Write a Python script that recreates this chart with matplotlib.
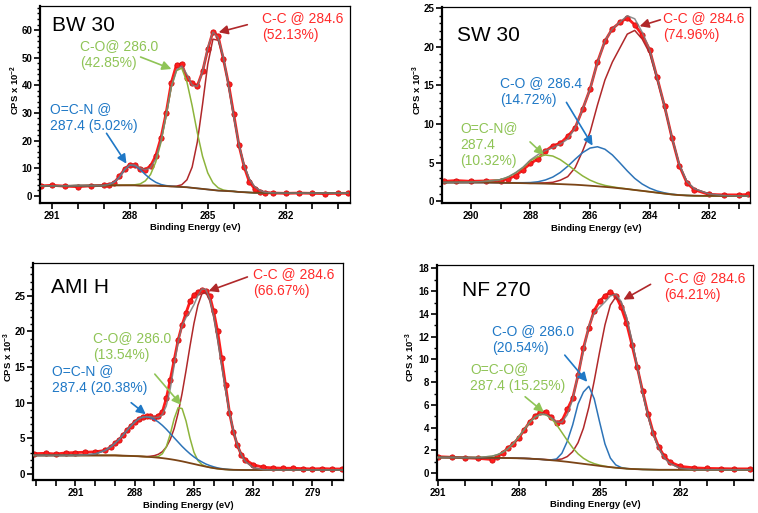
import matplotlib
matplotlib.use("Agg")
import matplotlib.pyplot as plt
from matplotlib.patches import FancyArrowPatch
import numpy as np

plt.rcParams['font.family'] = ['Liberation Sans', 'DejaVu Sans']
plt.rcParams['mathtext.fontset'] = 'custom'
plt.rcParams['mathtext.rm'] = 'Liberation Sans:bold'
plt.rcParams['mathtext.it'] = 'Liberation Sans:bold'
plt.rcParams['mathtext.bf'] = 'Liberation Sans:bold'

# ---------------- BW 30 ----------------
bw30_energy = [291.4, 291.0, 290.5, 290.0, 289.5, 289.0,
               288.8, 288.6, 288.4, 288.2, 288.0, 287.8, 287.6, 287.4, 287.2, 287.0,
               286.8, 286.6, 286.4, 286.2, 286.0, 285.8, 285.6, 285.4, 285.2, 285.0,
               284.8, 284.6, 284.4, 284.2, 284.0, 283.8, 283.6, 283.4, 283.2, 283.0, 282.8,
               282.5, 282.0, 281.5, 281.0, 280.5, 280.0, 279.6]
bw30_counts = [3.6, 3.8, 3.5, 3.3, 3.6, 3.8,
               4.0, 4.8, 7.0, 9.6, 11.3, 11.0, 9.8, 9.5, 10.8, 14.5,
               21.0, 30.0, 41.0, 47.5, 47.7, 42.5, 40.8, 39.8, 45.0, 53.0,
               59.4, 57.8, 49.5, 40.5, 29.5, 18.3, 10.5, 5.0, 2.6, 1.5, 1.2,
               1.0, 0.9, 1.0, 0.9, 0.8, 0.9, 0.9]
bw30_background = [3.6, 3.6, 3.6, 3.7, 3.7, 3.7,
                   3.8, 3.8, 3.8, 3.8, 3.8, 3.8, 3.7, 3.7, 3.7, 3.7,
                   3.6, 3.5, 3.4, 3.3, 3.2, 3.1, 2.9, 2.7, 2.5, 2.3,
                   2.1, 1.9, 1.8, 1.7, 1.6, 1.4, 1.3, 1.2, 1.1, 1.1, 1.0,
                   1.0, 1.0, 1.0, 1.0, 1.0, 1.0, 1.0]
bw30_ocn = [0, 0, 0, 0, 0, 0,
            0.3, 1.1, 2.9, 5.6, 7.3, 7.1, 5.8, 4.0, 2.4, 1.2,
            0.5, 0.2, 0.1, 0, 0, 0, 0, 0, 0, 0,
            0, 0, 0, 0, 0, 0, 0, 0, 0, 0, 0,
            0, 0, 0, 0, 0, 0, 0]
bw30_co = [0, 0, 0, 0, 0, 0,
           0, 0, 0, 0.05, 0.1, 0.2, 0.6, 1.7, 4.0, 8.5,
           15.7, 25.5, 36.0, 42.0, 43.0, 38.1, 29.7, 20.1, 11.8, 6.0,
           2.6, 1.0, 0.3, 0.1, 0, 0, 0, 0, 0, 0, 0,
           0, 0, 0, 0, 0, 0, 0]
bw30_cc = [0, 0, 0, 0, 0, 0,
           0, 0, 0, 0, 0, 0, 0, 0, 0, 0,
           0, 0, 0, 0.2, 0.8, 2.7, 7.5, 16.8, 30.6, 45.3,
           54.6, 54.4, 48.1, 38.1, 27.0, 17.1, 9.7, 4.9, 2.2, 0.9, 0.3,
           0.05, 0, 0, 0, 0, 0, 0]

# ---------------- SW 30 ----------------
sw30_energy = [290.9, 290.5, 290.0, 289.5, 289.0,
               288.75, 288.5, 288.25, 288.0, 287.75, 287.5, 287.25, 287.0, 286.75, 286.5,
               286.25, 286.0, 285.75, 285.5, 285.25, 285.0, 284.75, 284.5, 284.25, 284.0,
               283.75, 283.5, 283.25, 283.0, 282.75, 282.5,
               282.0, 281.5, 281.0, 280.7]
sw30_counts = [2.6, 2.7, 2.6, 2.65, 2.7,
               2.95, 3.3, 4.1, 4.9, 5.5, 6.5, 7.2, 7.5, 8.4, 9.5,
               11.9, 14.5, 18.0, 20.7, 22.3, 23.1, 23.7, 22.8, 21.5, 19.6,
               16.0, 12.3, 8.2, 4.6, 2.4, 1.5,
               0.9, 0.85, 0.85, 0.9]
sw30_background = [2.45, 2.45, 2.45, 2.45, 2.42,
                   2.4, 2.38, 2.36, 2.34, 2.32, 2.3, 2.27, 2.24, 2.2, 2.16,
                   2.1, 2.03, 1.96, 1.88, 1.8, 1.7, 1.6, 1.48, 1.37, 1.25,
                   1.13, 1.01, 0.9, 0.82, 0.77, 0.74,
                   0.72, 0.71, 0.7, 0.7]
sw30_ocn = [0, 0.01, 0.03, 0.14, 0.4,
            0.75, 1.3, 2.0, 2.92, 3.45, 3.7, 3.59, 3.16, 2.52, 1.83,
            1.2, 0.72, 0.39, 0.19, 0.09, 0.04, 0.02, 0, 0, 0,
            0, 0, 0, 0, 0, 0,
            0, 0, 0, 0]
sw30_co = [0, 0, 0, 0, 0,
           0.02, 0.04, 0.06, 0.1, 0.22, 0.47, 0.88, 1.5, 2.34, 3.29,
           4.2, 4.86, 5.1, 4.86, 4.2, 3.29, 2.34, 1.5, 0.88, 0.47,
           0.22, 0.1, 0.04, 0.02, 0.01, 0,
           0, 0, 0, 0]
sw30_cc = [0, 0, 0, 0, 0,
           0, 0, 0, 0, 0.05, 0.1, 0.2, 0.5, 1.0, 2.2,
           4.4, 6.9, 10.5, 13.8, 16.2, 18.1, 20.0, 20.6, 19.6, 17.9,
           14.65, 11.2, 7.3, 3.9, 1.8, 0.9,
           0.25, 0.05, 0, 0]

# ---------------- AMI H ----------------
amih_energy = [293.1, 292.5, 292.0, 291.5, 291.0, 290.5, 290.0, 289.5,
               289.2, 289.0, 288.8, 288.6, 288.4, 288.2, 288.0, 287.8, 287.6, 287.4,
               287.2, 287.0, 286.8, 286.6, 286.4, 286.2, 286.0, 285.8, 285.6, 285.4,
               285.2, 285.0, 284.8, 284.6, 284.4, 284.2, 284.0, 283.8, 283.6, 283.4,
               283.2, 283.0, 282.8, 282.6, 282.4,
               282.0, 281.5, 281.0, 280.5, 280.0, 279.5, 279.0, 278.5, 278.0, 277.5]
amih_counts = [2.85, 2.9, 2.8, 2.95, 3.0, 3.05, 3.1, 3.3,
               3.8, 4.3, 4.8, 5.4, 6.1, 6.7, 7.3, 7.7, 8.0, 8.1,
               8.1, 7.9, 8.2, 8.7, 10.6, 13.2, 16.0, 18.8, 20.9, 22.6,
               24.2, 25.1, 25.5, 25.8, 25.7, 25.0, 22.8, 20.0, 16.3, 12.5,
               8.6, 5.9, 4.0, 2.7, 2.0,
               1.3, 0.94, 0.85, 0.8, 0.8, 0.75, 0.7, 0.75, 0.7, 0.7]
amih_background = [2.6, 2.6, 2.6, 2.6, 2.6, 2.6, 2.6, 2.6,
                   2.6, 2.6, 2.58, 2.56, 2.55, 2.53, 2.5, 2.48, 2.45, 2.42,
                   2.38, 2.33, 2.28, 2.22, 2.15, 2.07, 1.98, 1.88, 1.77, 1.65,
                   1.52, 1.4, 1.27, 1.15, 1.03, 0.92, 0.82, 0.74, 0.68, 0.63,
                   0.6, 0.58, 0.57, 0.56, 0.55,
                   0.55, 0.55, 0.55, 0.55, 0.55, 0.55, 0.55, 0.55, 0.55, 0.55]
amih_ocn = [0, 0, 0, 0, 0, 0.05, 0.2, 0.7,
            1.22, 1.68, 2.24, 2.87, 3.53, 4.19, 4.77, 5.24, 5.52, 5.6,
            5.53, 5.32, 5.0, 4.6, 4.13, 3.61, 3.09, 2.59, 2.1, 1.68,
            1.31, 0.99, 0.74, 0.54, 0.37, 0.26, 0.18, 0.11, 0.07, 0.04,
            0.02, 0.01, 0, 0, 0,
            0, 0, 0, 0, 0, 0, 0, 0, 0, 0]
amih_co = [0, 0, 0, 0, 0, 0, 0, 0,
           0, 0, 0, 0, 0, 0, 0, 0, 0, 0,
           0, 0.04, 0.17, 0.61, 1.65, 3.5, 5.78, 7.41, 7.41, 5.78,
           3.5, 1.65, 0.61, 0.17, 0.04, 0, 0, 0, 0, 0,
           0, 0, 0, 0, 0,
           0, 0, 0, 0, 0, 0, 0, 0, 0, 0]
amih_cc = [0, 0, 0, 0, 0, 0, 0, 0,
           0, 0, 0, 0, 0, 0, 0, 0, 0, 0,
           0.11, 0.24, 0.48, 0.9, 1.62, 2.75, 4.4, 6.66, 9.52, 12.85,
           16.4, 19.7, 22.4, 24.1, 24.46, 23.4, 21.2, 18.1, 14.6, 11.15,
           8.0, 5.46, 3.5, 2.12, 1.22,
           0.34, 0.05, 0, 0, 0, 0, 0, 0, 0, 0]

# ---------------- NF 270 ----------------
nf270_energy = [291.0, 290.5, 290.0, 289.5, 289.0,
                288.8, 288.6, 288.4, 288.2, 288.0, 287.8, 287.6, 287.4, 287.2, 287.0,
                286.8, 286.6, 286.4, 286.2, 286.0, 285.8, 285.6, 285.4, 285.2, 285.0,
                284.8, 284.6, 284.4, 284.2, 284.0, 283.8, 283.6, 283.4, 283.2, 283.0,
                282.8, 282.6, 282.4,
                282.0, 281.5, 281.0, 280.5, 280.0, 279.4]
nf270_counts = [1.45, 1.4, 1.35, 1.3, 1.2,
                1.45, 1.8, 2.2, 2.6, 3.1, 3.8, 4.5, 5.0, 5.35, 5.4,
                4.9, 4.45, 4.6, 5.6, 6.6, 8.6, 11.0, 12.8, 14.3, 15.1,
                15.6, 15.9, 15.6, 14.6, 13.2, 11.3, 9.3, 7.2, 5.2, 3.5,
                2.3, 1.5, 1.0,
                0.6, 0.47, 0.42, 0.4, 0.38, 0.38]
nf270_background = [1.38, 1.38, 1.37, 1.36, 1.35,
                    1.35, 1.34, 1.33, 1.32, 1.31, 1.3, 1.28, 1.25, 1.22, 1.18,
                    1.14, 1.1, 1.05, 1.0, 0.94, 0.88, 0.82, 0.76, 0.7, 0.64,
                    0.58, 0.53, 0.48, 0.44, 0.4, 0.37, 0.35, 0.33, 0.32, 0.31,
                    0.3, 0.3, 0.3,
                    0.3, 0.3, 0.3, 0.3, 0.3, 0.3]
nf270_oco = [0, 0, 0, 0.02, 0.14,
             0.27, 0.49, 0.82, 1.29, 1.88, 2.53, 3.17, 3.68, 3.96, 3.96,
             3.68, 3.17, 2.53, 1.88, 1.29, 0.82, 0.49, 0.27, 0.14, 0.07,
             0.03, 0, 0, 0, 0, 0, 0, 0, 0, 0,
             0, 0, 0,
             0, 0, 0, 0, 0, 0]
nf270_co = [0, 0, 0, 0, 0,
            0, 0, 0, 0, 0, 0, 0, 0, 0, 0,
            0.03, 0.15, 0.7, 1.8, 3.3, 5.2, 6.31, 6.88, 5.85, 3.87,
            1.99, 0.8, 0.25, 0.06, 0.01, 0, 0, 0, 0, 0,
            0, 0, 0,
            0, 0, 0, 0, 0, 0]
nf270_cc = [0, 0, 0, 0, 0,
            0, 0, 0, 0, 0, 0, 0, 0, 0, 0.02,
            0.03, 0.08, 0.2, 0.46, 0.95, 1.8, 3.13, 5.02, 7.4, 10.0,
            12.45, 14.25, 15.0, 14.6, 13.3, 11.3, 9.03, 6.73, 4.69, 3.06,
            1.88, 1.07, 0.57,
            0.13, 0.01, 0, 0, 0, 0]

# ---------------- styling ----------------
W, H = 758, 513
DATA_RED = '#ff1c1c'
CC_COL = '#b0282a'
CO_GREEN = '#8db43c'
BLUE = '#2d74b8'
BROWN = '#7b4416'
GRAY = '#7a7a7a'
TXT_RED = '#ff2a2a'
TXT_GREEN = '#8fc456'
TXT_BLUE = '#1f78c6'

fig = plt.figure(figsize=(W / 100, H / 100), dpi=100)


def px(x, y):
    return (x / W, 1 - y / H)


def make_axes(l, t, r, b):
    return fig.add_axes([l / W, 1 - b / H, (r - l) / W, (b - t) / H])


def draw_panel(ax, energy, counts, background, comps, xlim, ylim, xmajor, ymajor,
               yminor_step, ylabel, ylab_xy, xlab_y):
    e = np.array(energy)
    bg = np.array(background)
    ax.plot(e, counts, color=DATA_RED, lw=2.0, zorder=1)
    ax.plot(e, counts, 'o', ms=3.8, mfc=DATA_RED, mec='#d41010', mew=0.6, zorder=2)
    total = bg.copy()
    for vals, col in comps:
        v = np.array(vals)
        ax.plot(e, bg + v, color=col, lw=1.1, zorder=3)
        total = total + v
    ax.plot(e, bg, color=BROWN, lw=1.3, zorder=4)
    ax.plot(e, total, color=GRAY, lw=1.1, zorder=5, alpha=0.85)

    ax.set_xlim(*xlim)
    ax.set_ylim(*ylim)
    ax.set_xticks(xmajor)
    lo, hi = int(np.ceil(min(xlim))), int(np.floor(max(xlim)))
    ax.set_xticks([v for v in range(lo, hi + 1) if v not in xmajor], minor=True)
    ax.set_yticks(ymajor)
    ymin_t = np.arange(0, ylim[1] + 1e-9, yminor_step)
    ax.set_yticks([v for v in ymin_t if all(abs(v - m) > 1e-6 for m in ymajor)], minor=True)
    ax.tick_params(axis='x', which='both', direction='out', length=4, width=1.2,
                   labelsize=7, pad=2)
    ax.tick_params(axis='y', which='major', direction='out', length=4, width=1.2,
                   labelsize=7, pad=1.5)
    ax.tick_params(axis='y', which='minor', direction='out', length=2.2, width=1.0)
    for lbl in ax.get_xticklabels() + ax.get_yticklabels():
        lbl.set_fontweight('bold')
    for s in ['left', 'bottom']:
        ax.spines[s].set_linewidth(1.6)
    for s in ['top', 'right']:
        ax.spines[s].set_linewidth(0.9)
    ax.set_ylabel(ylabel, fontsize=6.8, fontweight='bold')
    ax.yaxis.set_label_coords(*ylab_xy)
    ax.set_xlabel('Binding Energy (eV)', fontsize=6.8, fontweight='bold')
    ax.xaxis.set_label_coords(0.5, xlab_y)


def label(x, y, s, color, size=10):
    fig.text(*px(x, y), s, color=color, fontsize=size, ha='left', va='top',
             linespacing=1.25)


def arrow(x0, y0, x1, y1, color):
    a = FancyArrowPatch(px(x0, y0), px(x1, y1), transform=fig.transFigure,
                        arrowstyle='-|>,head_length=0.6,head_width=0.3',
                        mutation_scale=9, lw=1.2, color=color, zorder=10)
    fig.add_artist(a)


# BW 30
ax1 = make_axes(40, 6, 350, 203)
draw_panel(ax1, bw30_energy, bw30_counts, bw30_background,
           [(bw30_cc, CC_COL), (bw30_co, CO_GREEN), (bw30_ocn, BLUE)],
           (291.45, 279.53), (-2.6, 68.7), [291, 288, 285, 282], list(range(0, 61, 10)), 2,
           'CPS x 10$^{-2}$', (-0.058, 0.575), -0.10)
label(52, 16, 'BW 30', 'black', 15)
label(262, 11, 'C-C @ 284.6\n(52.13%)', TXT_RED)
arrow(250, 24, 216, 33, CC_COL)
label(80, 39, 'C-O@ 286.0\n(42.85%)', TXT_GREEN)
arrow(138, 56, 174, 70, TXT_GREEN)
label(50, 102, 'O=C-N @\n287.4 (5.02%)', TXT_BLUE)
arrow(105, 131, 128, 166, TXT_BLUE)

# SW 30
ax2 = make_axes(442, 7, 750, 203)
draw_panel(ax2, sw30_energy, sw30_counts, sw30_background,
           [(sw30_cc, CC_COL), (sw30_co, BLUE), (sw30_ocn, CO_GREEN)],
           (290.97, 280.63), (-0.2, 25.1), [290, 288, 286, 284, 282], list(range(0, 26, 5)), 1,
           'CPS x 10$^{-3}$', (-0.058, 0.577), -0.107)
label(457, 26, 'SW 30', 'black', 15)
label(663, 11, 'C-C @ 284.6\n(74.96%)', TXT_RED)
arrow(663, 19, 637, 27, CC_COL)
label(500, 76, 'C-O @ 286.4\n(14.72%)', TXT_BLUE)
arrow(565, 100, 594, 148, TXT_BLUE)
label(460, 121, 'O=C-N@\n287.4\n(10.32%)', TXT_GREEN)
arrow(528, 140, 546, 157, TXT_GREEN)

# AMI H
ax3 = make_axes(33, 263, 343, 480)
draw_panel(ax3, amih_energy, amih_counts, amih_background,
           [(amih_cc, CC_COL), (amih_co, CO_GREEN), (amih_ocn, BLUE)],
           (293.15, 277.45), (-0.85, 29.6), [291, 288, 285, 282, 279], list(range(0, 26, 5)), 1,
           'CPS x 10$^{-3}$', (-0.058, 0.569), -0.097)
label(51, 278, 'AMI H', 'black', 15)
label(253, 267, 'C-C @ 284.6\n(66.67%)', TXT_RED)
arrow(250, 276, 206, 292, CC_COL)
label(93, 331, 'C-O@ 286.0\n(13.54%)', TXT_GREEN)
arrow(153, 372, 183, 407, TXT_GREEN)
label(52, 364, 'O=C-N @\n287.4 (20.38%)', TXT_BLUE)
arrow(129, 401, 148, 416, TXT_BLUE)

# NF 270
ax4 = make_axes(437, 265, 753, 480)
draw_panel(ax4, nf270_energy, nf270_counts, nf270_background,
           [(nf270_cc, CC_COL), (nf270_co, BLUE), (nf270_oco, CO_GREEN)],
           (291.04, 279.3), (-0.6, 18.3), [291, 288, 285, 282], list(range(0, 19, 2)), 1,
           'CPS x 10$^{-3}$', (-0.063, 0.57), -0.093)
label(462, 281, 'NF 270', 'black', 15)
label(664, 271, 'C-C @ 284.6\n(64.21%)', TXT_RED)
arrow(653, 283, 621, 301, CC_COL)
label(492, 324, 'C-O @ 286.0\n(20.54%)', TXT_BLUE)
arrow(563, 353, 589, 384, TXT_BLUE)
label(470, 362, 'O=C-O@\n287.4 (15.25%)', TXT_GREEN)
arrow(523, 395, 546, 414, TXT_GREEN)

fig.savefig('out.png', dpi=100)
